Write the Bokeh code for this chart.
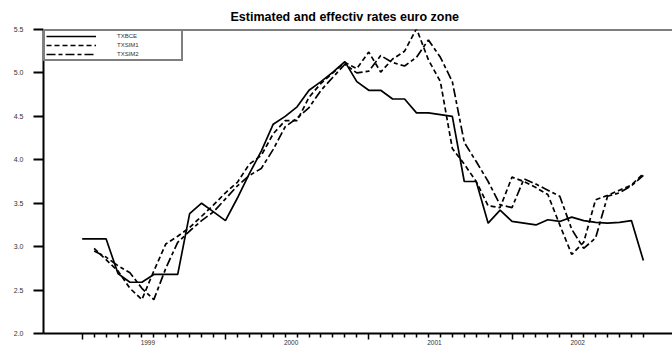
from bokeh.plotting import figure
from bokeh.models import (Range1d, FixedTicker, Legend, LegendItem, Span,
                          Title, LinearAxis, CustomJSTickFormatter)
from bokeh.embed import file_html
from bokeh.resources import INLINE

nan = float("nan")

months = list(range(48))
year_labels = ["1999", "2000", "2001", "2002"]
year_label_pos = [5.5, 17.5, 29.5, 41.5]
major_ticks = [0, 12, 24, 36]
y_ticks = [2.0, 2.5, 3.0, 3.5, 4.0, 4.5, 5.0, 5.5]

txbce = [3.09, 3.09, 3.09, 2.69, 2.59, 2.59, 2.68, 2.68, 2.68, 3.38, 3.50, 3.40,
         3.30, 3.56, 3.84, 4.10, 4.41, 4.50, 4.61, 4.80, 4.90, 5.01, 5.13, 4.90,
         4.80, 4.80, 4.70, 4.70, 4.54, 4.54, 4.52, 4.50, 3.75, 3.75, 3.27, 3.42,
         3.29, 3.27, 3.25, 3.31, 3.29, 3.34, 3.30, 3.28, 3.27, 3.28, 3.30, 2.84]

txsim1 = [nan, 2.98, 2.85, 2.72, 2.52, 2.39, 2.72, 3.03, 3.12, 3.22, 3.35, 3.48,
          3.62, 3.74, 3.95, 4.05, 4.30, 4.45, 4.45, 4.72, 4.88, 5.00, 5.12, 5.05,
          5.24, 5.01, 5.16, 5.25, 5.51, 5.15, 4.90, 4.13, 3.95, 3.75, 3.47, 3.45,
          3.80, 3.75, 3.68, 3.60, 3.25, 2.91, 3.05, 3.54, 3.59, 3.65, 3.71, 3.84]

txsim2 = [nan, 2.95, 2.88, 2.78, 2.70, 2.52, 2.39, 2.75, 3.05, 3.18, 3.30, 3.40,
          3.55, 3.70, 3.82, 3.90, 4.12, 4.38, 4.48, 4.60, 4.80, 4.95, 5.10, 5.00,
          5.02, 5.20, 5.12, 5.08, 5.18, 5.38, 5.18, 4.90, 4.20, 3.98, 3.75, 3.48,
          3.45, 3.78, 3.72, 3.65, 3.58, 3.20, 2.98, 3.10, 3.58, 3.62, 3.70, 3.82]

FONT = "Liberation Sans"

p = figure(width=672, height=347, output_backend="svg", toolbar_location=None,
           x_range=Range1d(-3.24, 49.44), y_range=Range1d(2.0, 5.5),
           min_border_left=43, min_border_right=0, min_border_top=29,
           min_border_bottom=0)
p.outline_line_color = None
p.xgrid.visible = False
p.ygrid.visible = False
p.background_fill_color = "white"
p.border_fill_color = "white"

p.title = Title(text="Estimated and effectiv rates euro zone", align="left",
                offset=187, text_font=FONT, text_font_size="12.5px",
                text_font_style="bold", text_color="black", standoff=11)

# x axis: monthly ticks, longer ticks at year starts
xa = p.xaxis[0]
xa.ticker = FixedTicker(ticks=major_ticks,
                        minor_ticks=[m for m in months if m not in major_ticks])
xa.major_label_overrides = {t: "" for t in major_ticks}
xa.major_label_text_font_size = "0px"
xa.major_label_standoff = 0
xa.axis_line_width = 2
xa.axis_line_color = "black"
xa.major_tick_out = 6
xa.major_tick_in = 0
xa.minor_tick_out = 4
xa.minor_tick_in = 0
xa.major_tick_line_width = 1.5
xa.minor_tick_line_width = 1.5
xa.major_tick_line_color = "black"
xa.minor_tick_line_color = "black"

# year labels at mid-year
xa2 = LinearAxis(ticker=FixedTicker(ticks=year_label_pos, minor_ticks=[]),
                 major_label_overrides=dict(zip(year_label_pos, year_labels)),
                 axis_line_color=None, major_tick_line_color=None,
                 minor_tick_line_color=None, major_tick_out=0, major_tick_in=0,
                 major_label_standoff=0, major_label_text_font=FONT,
                 major_label_text_font_size="6.5px",
                 major_label_text_color="#333333")
p.add_layout(xa2, "below")

# y axis
ya = p.yaxis[0]
ya.ticker = FixedTicker(ticks=y_ticks, minor_ticks=[])
ya.axis_line_width = 2
ya.axis_line_color = "black"
ya.major_tick_out = 10
ya.major_tick_in = 0
ya.major_tick_line_width = 2
ya.major_tick_line_color = "black"
ya.major_label_text_font = FONT
ya.major_label_text_font_size = "7px"
ya.major_label_text_color = "#333333"
ya.major_label_standoff = 10
ya.formatter = CustomJSTickFormatter(code="return tick.toFixed(1);")

# top frame line
p.add_layout(Span(location=5.5, dimension="width", line_color="black", line_width=2))

r0 = p.line(months, txbce, line_color="black", line_width=1.7)
r1 = p.line(months, txsim1, line_color="black", line_width=1.7, line_dash="5 3")
r2 = p.line(months, txsim2, line_color="black", line_width=1.7, line_dash="9 3 4 3")

legend = Legend(items=[LegendItem(label="TXBCE", renderers=[r0]),
                       LegendItem(label="TXSIM1", renderers=[r1]),
                       LegendItem(label="TXSIM2", renderers=[r2])],
                location="top_left", margin=0, padding=1, spacing=1,
                glyph_width=50, glyph_height=8, label_height=8,
                label_standoff=21, label_width=63,
                label_text_font=FONT, label_text_font_size="6px",
                label_text_color="#333333",
                border_line_color="black", border_line_width=2,
                background_fill_color="white", background_fill_alpha=1)
p.add_layout(legend)

open("out.html", "w").write(file_html(p, INLINE))
